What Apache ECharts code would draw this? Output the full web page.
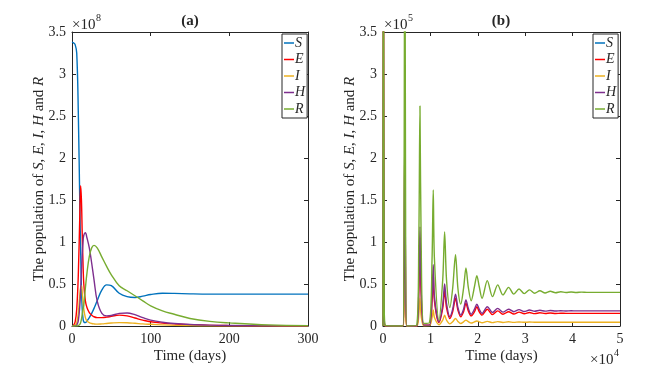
<!DOCTYPE html>
<html>
<head>
<meta charset="utf-8">
<script src="https://cdn.jsdelivr.net/npm/echarts@6/dist/echarts.min.js"></script>
<style>
  html, body { margin: 0; padding: 0; background: #fff; }
  #chart { width: 645px; height: 370px; }
</style>
</head>
<body>
<div id="chart"></div>
<script>
// panel (a): time in days, populations in units of 1e8
var timeA = [0, 2, 4, 6, 8, 10, 11, 12, 13, 14, 15, 17, 19, 22, 25, 28, 32, 38, 44, 50, 60, 70, 80, 90, 100, 115, 130, 150, 175, 200, 250, 300];
var sA = [3.38, 3.37, 3.35, 3.25, 2.55, 1.4, 0.9, 0.45, 0.2, 0.09, 0.05, 0.04, 0.06, 0.1, 0.15, 0.21, 0.3, 0.43, 0.49, 0.48, 0.39, 0.35, 0.34, 0.355, 0.375, 0.39, 0.388, 0.383, 0.38, 0.38, 0.38, 0.38];
var eA = [0, 0.01, 0.05, 0.2, 0.6, 1.35, 1.67, 1.5, 1.1, 0.75, 0.5, 0.3, 0.22, 0.16, 0.13, 0.11, 0.1, 0.1, 0.105, 0.115, 0.13, 0.12, 0.095, 0.07, 0.05, 0.035, 0.025, 0.015, 0.008, 0.005, 0.002, 0.001];
var iA = [0, 0, 0.01, 0.04, 0.15, 0.38, 0.46, 0.48, 0.4, 0.3, 0.2, 0.1, 0.06, 0.04, 0.03, 0.025, 0.022, 0.025, 0.03, 0.035, 0.04, 0.038, 0.032, 0.025, 0.02, 0.013, 0.008, 0.005, 0.003, 0.002, 0.001, 0];
var hA = [0, 0, 0, 0.01, 0.06, 0.25, 0.42, 0.65, 0.85, 1.0, 1.08, 1.11, 1.05, 0.93, 0.75, 0.55, 0.3, 0.15, 0.12, 0.125, 0.15, 0.155, 0.135, 0.1, 0.07, 0.045, 0.03, 0.018, 0.01, 0.006, 0.002, 0.001];
var rA = [0, 0, 0, 0, 0.005, 0.02, 0.04, 0.08, 0.14, 0.2, 0.25, 0.45, 0.63, 0.83, 0.93, 0.96, 0.93, 0.82, 0.71, 0.61, 0.48, 0.42, 0.36, 0.3, 0.24, 0.18, 0.14, 0.09, 0.055, 0.037, 0.013, 0.005];

// panel (b): time in units of 1e4 days, populations in units of 1e5
var timeB = [0, 0.008, 0.025, 0.05,
  0.42, 0.445, 0.46, 0.475, 0.50,
  0.71, 0.755, 0.78, 0.805, 0.86,
  0.98, 1.035, 1.06, 1.085, 1.18,
  1.26, 1.30, 1.34, 1.41,
  1.47, 1.53, 1.58, 1.64,
  1.70, 1.75, 1.80, 1.86,
  1.93, 1.98, 2.03, 2.09,
  2.20, 2.31, 2.42, 2.53, 2.65, 2.76, 2.87, 2.98,
  3.09, 3.20, 3.31, 3.42, 3.53, 3.64, 3.75, 3.86, 3.97,
  4.08, 4.19, 4.30, 4.5, 5];
var eB = [0, 5, 0.15, 0,
  0, 0.65, 2.2, 0.6, 0,
  0, 0.4, 1.05, 0.38, 0.01,
  0.01, 0.3, 0.62, 0.3, 0.04,
  0.21, 0.42, 0.22, 0.09,
  0.17, 0.33, 0.19, 0.11,
  0.17, 0.27, 0.18, 0.12,
  0.17, 0.23, 0.17, 0.13,
  0.2, 0.135, 0.18, 0.14, 0.17, 0.143, 0.165, 0.145,
  0.16, 0.147, 0.157, 0.148, 0.154, 0.149, 0.152, 0.15, 0.15,
  0.15, 0.15, 0.15, 0.15, 0.15];
var iB = [0, 4.5, 0.05, 0,
  0, 0.2, 0.55, 0.2, 0,
  0, 0.13, 0.33, 0.12, 0.003,
  0.004, 0.1, 0.19, 0.1, 0.015,
  0.07, 0.13, 0.07, 0.025,
  0.05, 0.09, 0.055, 0.03,
  0.05, 0.07, 0.052, 0.035,
  0.05, 0.06, 0.05, 0.038,
  0.055, 0.04, 0.052, 0.042, 0.05, 0.043, 0.048, 0.044,
  0.047, 0.045, 0.045, 0.045, 0.045, 0.045, 0.045, 0.045, 0.045,
  0.045, 0.045, 0.045, 0.045, 0.045];
var hB = [0, 5, 0.2, 0,
  0, 0.7, 2.31, 0.7, 0,
  0, 0.45, 1.18, 0.45, 0.01,
  0.01, 0.35, 0.73, 0.35, 0.05,
  0.25, 0.5, 0.27, 0.11,
  0.2, 0.38, 0.22, 0.13,
  0.2, 0.31, 0.21, 0.14,
  0.2, 0.26, 0.2, 0.15,
  0.23, 0.16, 0.21, 0.165, 0.2, 0.17, 0.195, 0.172,
  0.19, 0.175, 0.187, 0.177, 0.184, 0.178, 0.182, 0.179, 0.181,
  0.18, 0.18, 0.18, 0.18, 0.18];
var rB = [0, 6, 0.3, 0.01,
  0, 1.8, 6, 1.8, 0,
  0.01, 1.0, 2.62, 1.0, 0.03,
  0.04, 0.8, 1.62, 0.8, 0.07,
  0.55, 1.12, 0.55, 0.22,
  0.45, 0.85, 0.45, 0.26,
  0.45, 0.69, 0.46, 0.3,
  0.47, 0.6, 0.47, 0.33,
  0.54, 0.35, 0.49, 0.37, 0.46, 0.38, 0.44, 0.385,
  0.43, 0.39, 0.42, 0.393, 0.413, 0.396, 0.408, 0.398, 0.405,
  0.399, 0.403, 0.4, 0.4, 0.4];
// S stays far above the plotted range in (b)
var sB = [[0, 9], [5, 9]];

var names = ['S', 'E', 'I', 'H', 'R'];
var colors = ['#0072BD', '#FF0000', '#EDB120', '#7E2F8E', '#77AC30'];

var serif = '"Liberation Serif", "Times New Roman", serif';
var ink = '#262626';

function pairs(t, v) {
    var out = [];
    for (var k = 0; k < Math.min(t.length, v.length); k++) {
        out.push([t[k], v[k]]);
    }
    return out;
}

function axis(grid, pos, min, max, step, labels) {
    return {
        type: 'value',
        gridIndex: grid,
        position: pos,
        min: min,
        max: max,
        interval: step,
        axisLine: {show: true, onZero: false, lineStyle: {color: ink, width: 1}},
        axisTick: {show: true, inside: true, length: 4, lineStyle: {color: ink}},
        axisLabel: {show: labels, color: ink, fontFamily: serif, fontSize: 14, margin: 6},
        splitLine: {show: false}
    };
}

var yName = 'The population of {i|S}, {i|E}, {i|I}, {i|H} and {i|R}';
var nameStyle = {
    color: ink, fontFamily: serif, fontSize: 15,
    rich: {i: {fontStyle: 'italic', fontFamily: serif, fontSize: 15, color: ink}}
};

function named(ax, name, gap) {
    ax.name = name;
    ax.nameLocation = 'middle';
    ax.nameGap = gap;
    ax.nameMoveOverlap = false;
    ax.nameTextStyle = nameStyle;
    return ax;
}

var xA = named(axis(0, 'bottom', 0, 300, 100, true), 'Time (days)', 23);
var xB = named(axis(1, 'bottom', 0, 5, 1, true), 'Time (days)', 23);
var yA = named(axis(0, 'left', 0, 3.5, 0.5, true), yName, 25);
var yB = named(axis(1, 'left', 0, 3.5, 0.5, true), yName, 25);

var series = [];
var dataA = [sA, eA, iA, hA, rA];
var dataB = [null, eB, iB, hB, rB];
names.forEach(function (n, k) {
    series.push({
        name: n, type: 'line', xAxisIndex: 0, yAxisIndex: 0,
        data: pairs(timeA, dataA[k]),
        showSymbol: false, symbol: 'none', smooth: 0.4,
        lineStyle: {color: colors[k], width: 1.4}, itemStyle: {color: colors[k]}
    });
});
names.forEach(function (n, k) {
    series.push({
        name: n, type: 'line', xAxisIndex: 2, yAxisIndex: 2,
        data: k === 0 ? sB : pairs(timeB, dataB[k]),
        showSymbol: false, symbol: 'none', smooth: 0.3,
        lineStyle: {color: colors[k], width: 1.4}, itemStyle: {color: colors[k]}
    });
});

function legend(left) {
    return {
        data: names, left: left, top: 34, orient: 'vertical',
        icon: 'rect', itemWidth: 10, itemHeight: 1.5, itemGap: 2.5,
        padding: [2, 2, 2, 2],
        borderColor: ink, borderWidth: 1, backgroundColor: '#fff',
        textStyle: {fontFamily: serif, fontStyle: 'italic', fontSize: 14, lineHeight: 12.5, color: ink, padding: [0, 0, 0, -4]},
        selectedMode: false
    };
}

function txt(x, y, s, size, extra) {
    var st = {text: s, x: x, y: y, fill: ink, font: (extra || '') + ' ' + size + 'px ' + serif, align: 'left', verticalAlign: 'middle'};
    return {type: 'text', style: st, z: 100};
}

var graphics = [
    txt(72, 25, '×10', 15), txt(96, 18, '8', 10),
    txt(384, 25, '×10', 15), txt(408, 18, '5', 10),
    txt(590, 360, '×10', 15), txt(614, 353, '4', 10)
];
var tA = txt(190, 21, '(a)', 15, 'bold'); tA.style.align = 'center';
var tB = txt(501, 21, '(b)', 15, 'bold'); tB.style.align = 'center';
graphics.push(tA, tB);

var myChart = echarts.init(document.getElementById('chart'), null, {renderer: 'canvas'});
myChart.setOption({
    animation: false,
    backgroundColor: '#fff',
    grid: [
        {left: 72, top: 32, width: 236, height: 294},
        {left: 383, top: 32, width: 237, height: 294}
    ],
    xAxis: [xA, axis(0, 'top', 0, 300, 100, false), xB, axis(1, 'top', 0, 5, 1, false)],
    yAxis: [yA, axis(0, 'right', 0, 3.5, 0.5, false), yB, axis(1, 'right', 0, 3.5, 0.5, false)],
    legend: [legend(282), legend(593)],
    graphic: graphics,
    series: series
});
</script>
</body>
</html>
